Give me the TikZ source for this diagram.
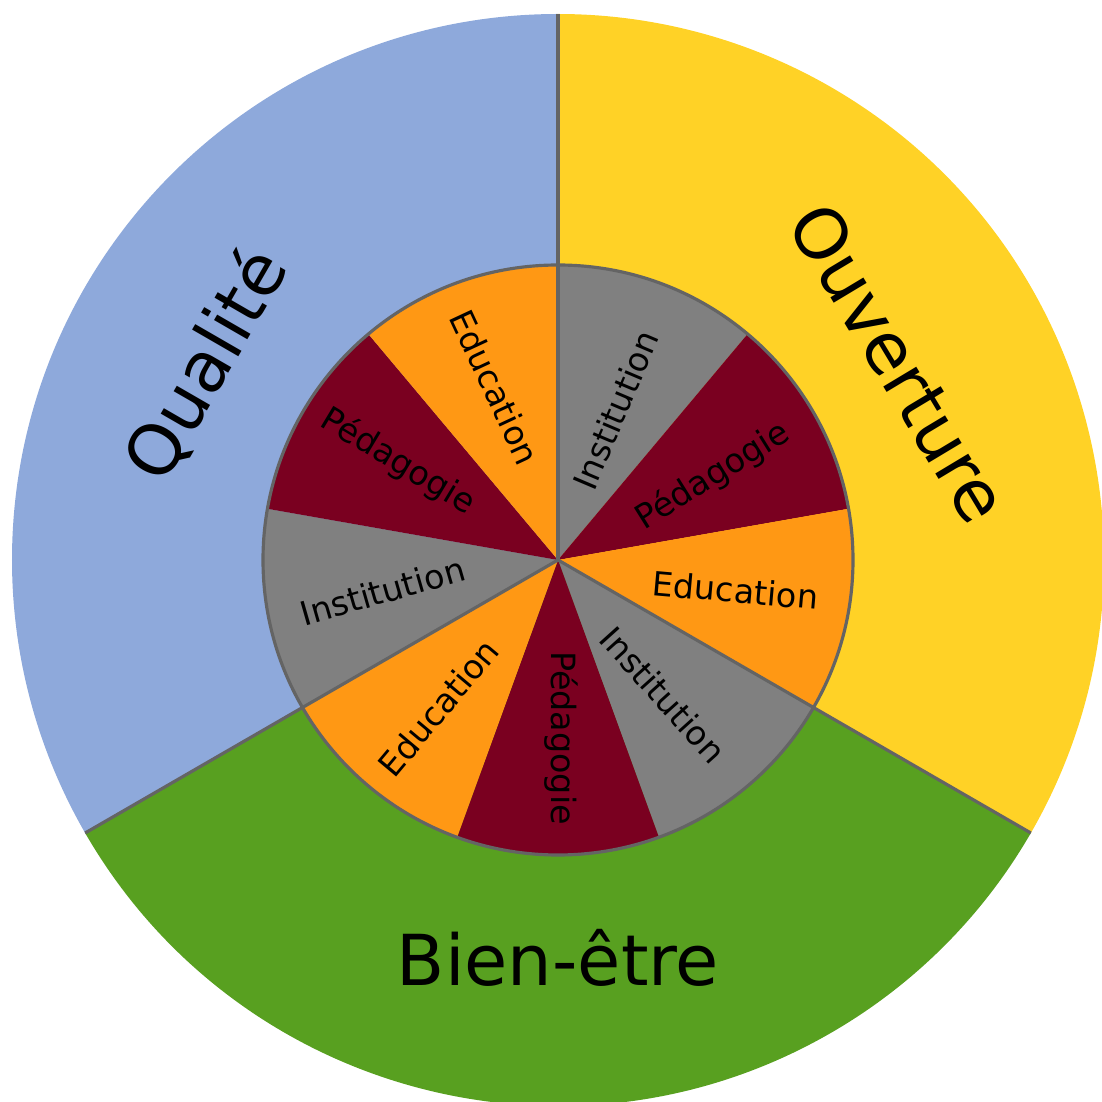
\documentclass[tikz,border=0pt]{standalone}
\usepackage{fontspec}
\setmainfont{DejaVu Sans}
\usepackage{tikz}
\definecolor{qualite}{RGB}{142, 169, 219}
\definecolor{ouverture}{RGB}{255, 210, 38}
\definecolor{bienetre}{RGB}{88, 160, 32}
\definecolor{edu}{RGB}{255, 152, 20}
\definecolor{peda}{RGB}{122, 0, 32}
\definecolor{inst}{RGB}{128, 128, 128}
\definecolor{trait}{RGB}{100, 100, 100}

\begin{document}
\begin{tikzpicture}[
    grand/.style={font=\fontsize{20}{24}\selectfont, inner sep=0pt}, % axes
    petit/.style={font=\fontsize{9.5}{11}\selectfont, inner sep=0pt}, % secteurs
    trait/.style={draw=trait, line width=0.9pt}
  ]
  \useasboundingbox (0,0) rectangle (11.02,11.02);
  \coordinate (c) at (5.58,5.42);

  % anneau exterieur
  \fill[qualite] (c) -- ++(90:5.46) arc (90:210:5.46) -- cycle;
  \fill[ouverture] (c) -- ++(-30:5.46) arc (-30:90:5.46) -- cycle;
  \fill[bienetre] (c) -- ++(210:5.46) arc (210:330:5.46) -- cycle;

  % disque interieur
  \fill[inst] (c) -- ++(50:2.95) arc (50:90:2.95) -- cycle;
  \fill[peda] (c) -- ++(10:2.95) arc (10:50:2.95) -- cycle;
  \fill[edu] (c) -- ++(-30:2.95) arc (-30:10:2.95) -- cycle;
  \fill[inst] (c) -- ++(-70:2.95) arc (-70:-30:2.95) -- cycle;
  \fill[peda] (c) -- ++(-110:2.95) arc (-110:-70:2.95) -- cycle;
  \fill[edu] (c) -- ++(-150:2.95) arc (-150:-110:2.95) -- cycle;
  \fill[inst] (c) -- ++(170:2.95) arc (170:210:2.95) -- cycle;
  \fill[peda] (c) -- ++(130:2.95) arc (130:170:2.95) -- cycle;
  \fill[edu] (c) -- ++(90:2.95) arc (90:130:2.95) -- cycle;

  \draw[trait] (c) circle (2.95);
  \draw[trait] (c) -- ++(90:5.46);
  \draw[trait] (c) -- ++(210:5.46);
  \draw[trait] (c) -- ++(330:5.46);

  % titres
  \path (c) ++(151:4.02) node[grand, rotate=60] (qualiteLbl) {Qualité};
  \path (c) ++(30:3.94) node[grand, rotate=-59] (ouvertureLbl) {Ouverture};
  \path (c) ++(270:3.98) node[grand] (bienetreLbl) {Bien-être};

  \path (c) ++(69:1.61) node[petit, rotate=67] (inst1) {Institution};
  \path (c) ++(28.5:1.76) node[petit, rotate=32] (peda1) {Pédagogie};
  \path (c) ++(-9.6:1.80) node[petit, rotate=-5] (edu1) {Education};
  \path (c) ++(-52:1.71) node[petit, rotate=-48] (inst2) {Institution};
  \path (c) ++(-89:1.78) node[petit, rotate=-90] (peda2) {Pédagogie};
  \path (c) ++(231:1.90) node[petit, rotate=50] (edu2) {Education};
  \path (c) ++(190:1.78) node[petit, rotate=16] (inst3) {Institution};
  \path (c) ++(148.5:1.88) node[petit, rotate=-31] (peda3) {Pédagogie};
  \path (c) ++(110:1.84) node[petit, rotate=-65] (edu3) {Education};
\end{tikzpicture}
\end{document}
